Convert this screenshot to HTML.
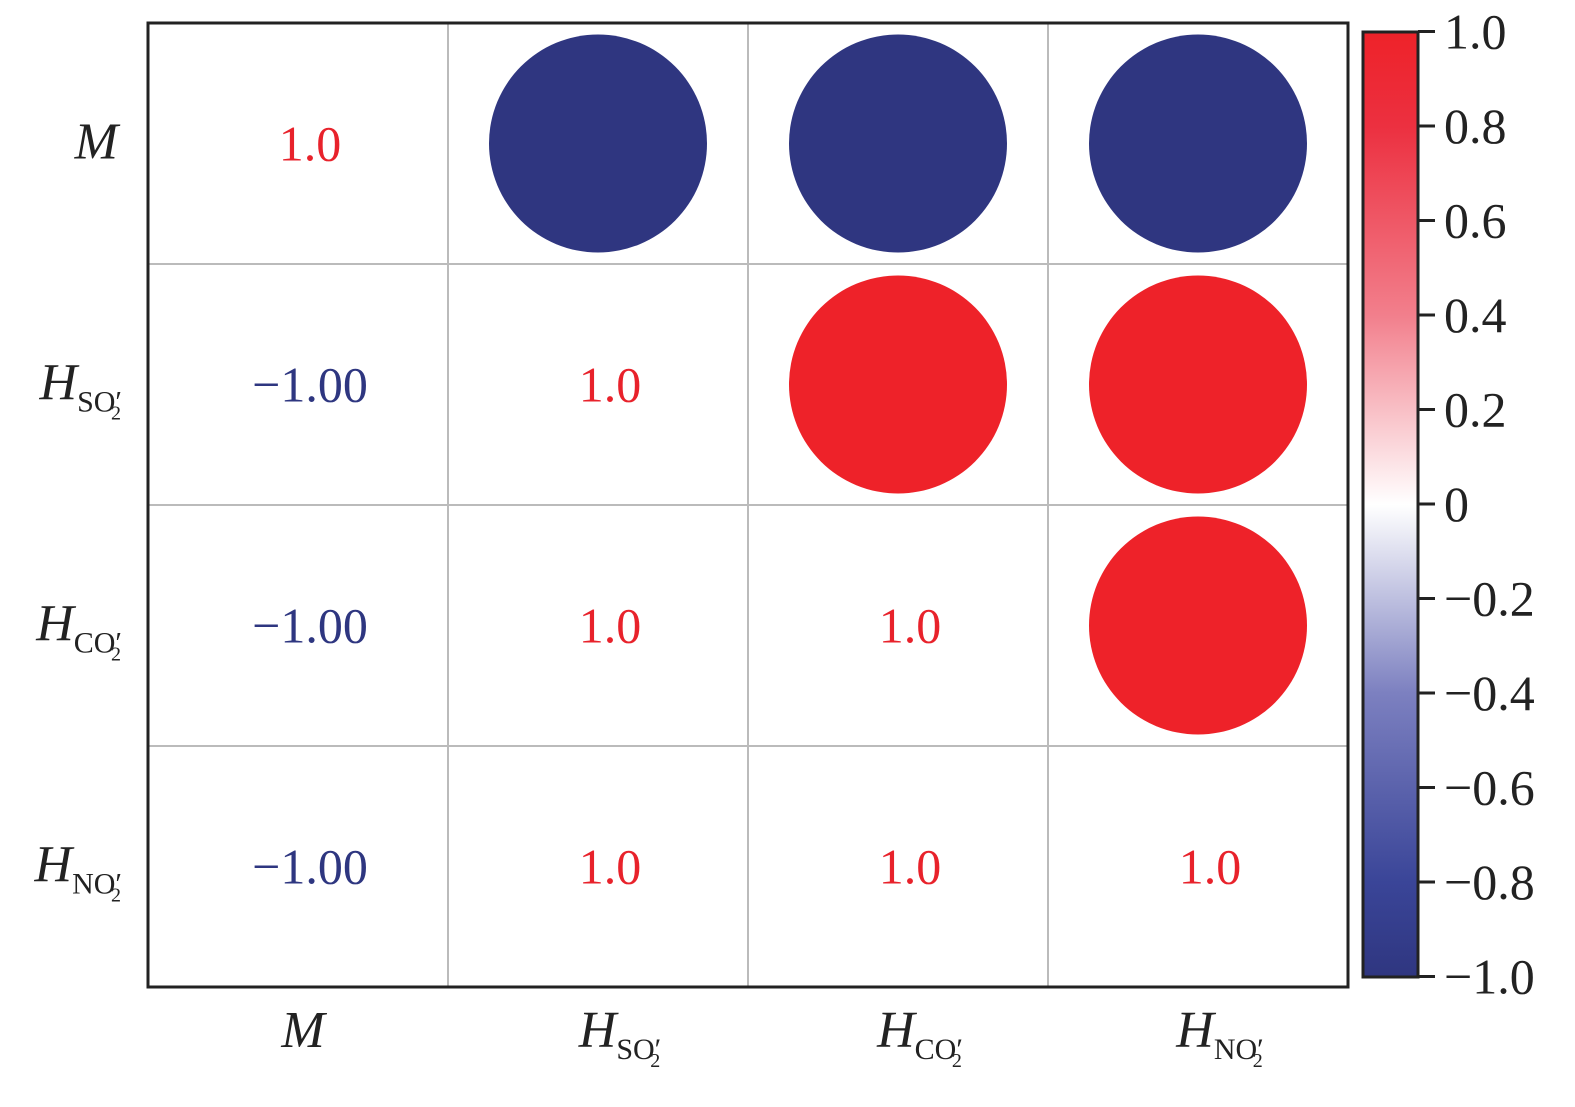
<!DOCTYPE html>
<html><head><meta charset="utf-8"><style>
html,body{margin:0;padding:0;background:#fff;}
svg text{font-family:"Liberation Serif","Times New Roman",serif;}
</style></head><body>
<svg id="chart" width="1575" height="1102" xmlns="http://www.w3.org/2000/svg" font-family="Liberation Serif, serif">
<defs>
<linearGradient id="cbg" x1="0" y1="1" x2="0" y2="0">
<stop offset="0" stop-color="#2f3680"/>
<stop offset="0.1" stop-color="#3a4598"/>
<stop offset="0.3" stop-color="#7c80c0"/>
<stop offset="0.5" stop-color="#ffffff"/>
<stop offset="0.7" stop-color="#f27f8c"/>
<stop offset="0.9" stop-color="#ec3040"/>
<stop offset="1" stop-color="#ee2229"/>
</linearGradient>
</defs>
<g id="grid"></g>
<g id="marks"></g>
<g id="labels"></g>
<rect x="1363" y="32" width="55" height="945" fill="url(#cbg)" stroke="#222" stroke-width="3"/>
<g id="cbticks"></g>
</svg>
<script>
const variables = ["M", "SO", "CO", "NO"];
const matrix = [
  [1.0, -1.0, -1.0, -1.0],
  [-1.0, 1.0, 1.0, 1.0],
  [-1.0, 1.0, 1.0, 1.0],
  [-1.0, 1.0, 1.0, 1.0]
];
const cbTicks = [1.0, 0.8, 0.6, 0.4, 0.2, 0, -0.2, -0.4, -0.6, -0.8, -1.0];
const cbTickLabels = ["1.0","0.8","0.6","0.4","0.2","0","\u22120.2","\u22120.4","\u22120.6","\u22120.8","\u22121.0"];

const NS = "http://www.w3.org/2000/svg";
const X0 = 148, Y0 = 23, CW = 300, CH = 241, N = variables.length;
const cx = i => X0 + CW * (i + 0.5);
const cy = i => Y0 + CH * (i + 0.5);
const cbY = v => 504 - v * 472.5;
function color(v){
  const t = Math.abs(v);
  const end = v >= 0 ? [238,34,41] : [47,54,128];
  const c = end.map(e => Math.round(255 + (e - 255) * t));
  return `rgb(${c[0]},${c[1]},${c[2]})`;
}
function mk(tag, attrs, parent){
  const e = document.createElementNS(NS, tag);
  for (const k in attrs) e.setAttribute(k, attrs[k]);
  parent.appendChild(e);
  return e;
}
const grid = document.getElementById('grid');
const marks = document.getElementById('marks');
const labels = document.getElementById('labels');
for (let i = 1; i < N; i++) {
  let l = mk('line', {x1: X0 + CW*i, x2: X0 + CW*i, y1: Y0, y2: Y0 + CH*N, stroke: '#bbb', 'stroke-width': 2}, grid);
  
  
  let h = mk('line', {x1: X0, x2: X0 + CW*N, y1: Y0 + CH*i, y2: Y0 + CH*i, stroke: '#bbb', 'stroke-width': 2}, grid);
  
  
}
let border = mk('rect', {x: X0, y: Y0, width: CW*N, height: CH*N, fill: 'none', stroke: '#222', 'stroke-width': 3}, grid);



for (let r = 0; r < N; r++) for (let c = 0; c < N; c++) {
  const v = matrix[r][c];
  if (c > r) {
    const circ = mk('circle', {cx: cx(c), cy: cy(r), r: 109 * Math.sqrt(Math.abs(v)), fill: color(v)}, marks);
    
    
  } else {
    const t = mk('text', {x: cx(c) + 12, y: cy(r) + 17, 'text-anchor': 'middle', 'font-size': 50, fill: v >= 0 ? '#e8222b' : '#2e3680'}, marks);
    t.textContent = c === r ? v.toFixed(1) : (v < 0 ? '\u2212' + Math.abs(v).toFixed(2) : v.toFixed(1));
    
    
  }
}
function varLabel(i, x, y, anchor){
  const t = mk('text', {x: x, y: y, 'text-anchor': anchor, 'font-size': 52, fill: '#222'}, labels);
  if (variables[i] === 'M') {
    const s = mk('tspan', {'font-style': 'italic'}, t); s.textContent = 'M';
  } else {
    const s = mk('tspan', {'font-style': 'italic'}, t); s.textContent = 'H';
    const sub = mk('tspan', {'font-size': 30, dy: 12}, t); sub.textContent = variables[i] + '\u2032';
    const two = mk('tspan', {'font-size': 20, dx: -11, dy: 8}, t); two.textContent = '2';
  }
  return t;
}
for (let i = 0; i < N; i++) {
  const yl = varLabel(i, i === 0 ? 118 : 122, cy(i) + 15, 'end');
  
  
  const xl = varLabel(i, cx(i) + (i === 0 ? 5 : 22), 1047, 'middle');
  
  
}
const cbt = document.getElementById('cbticks');
cbTicks.forEach((v, i) => {
  const y = cbY(v);
  const l = mk('line', {x1: 1418, x2: 1435, y1: y, y2: y, stroke: '#222', 'stroke-width': 3}, cbt);
  
  
  const t = mk('text', {x: 1444, y: y + 17, 'font-size': 50, fill: '#222'}, cbt);
  t.textContent = cbTickLabels[i];
  
  
});
</script>
</body></html>
